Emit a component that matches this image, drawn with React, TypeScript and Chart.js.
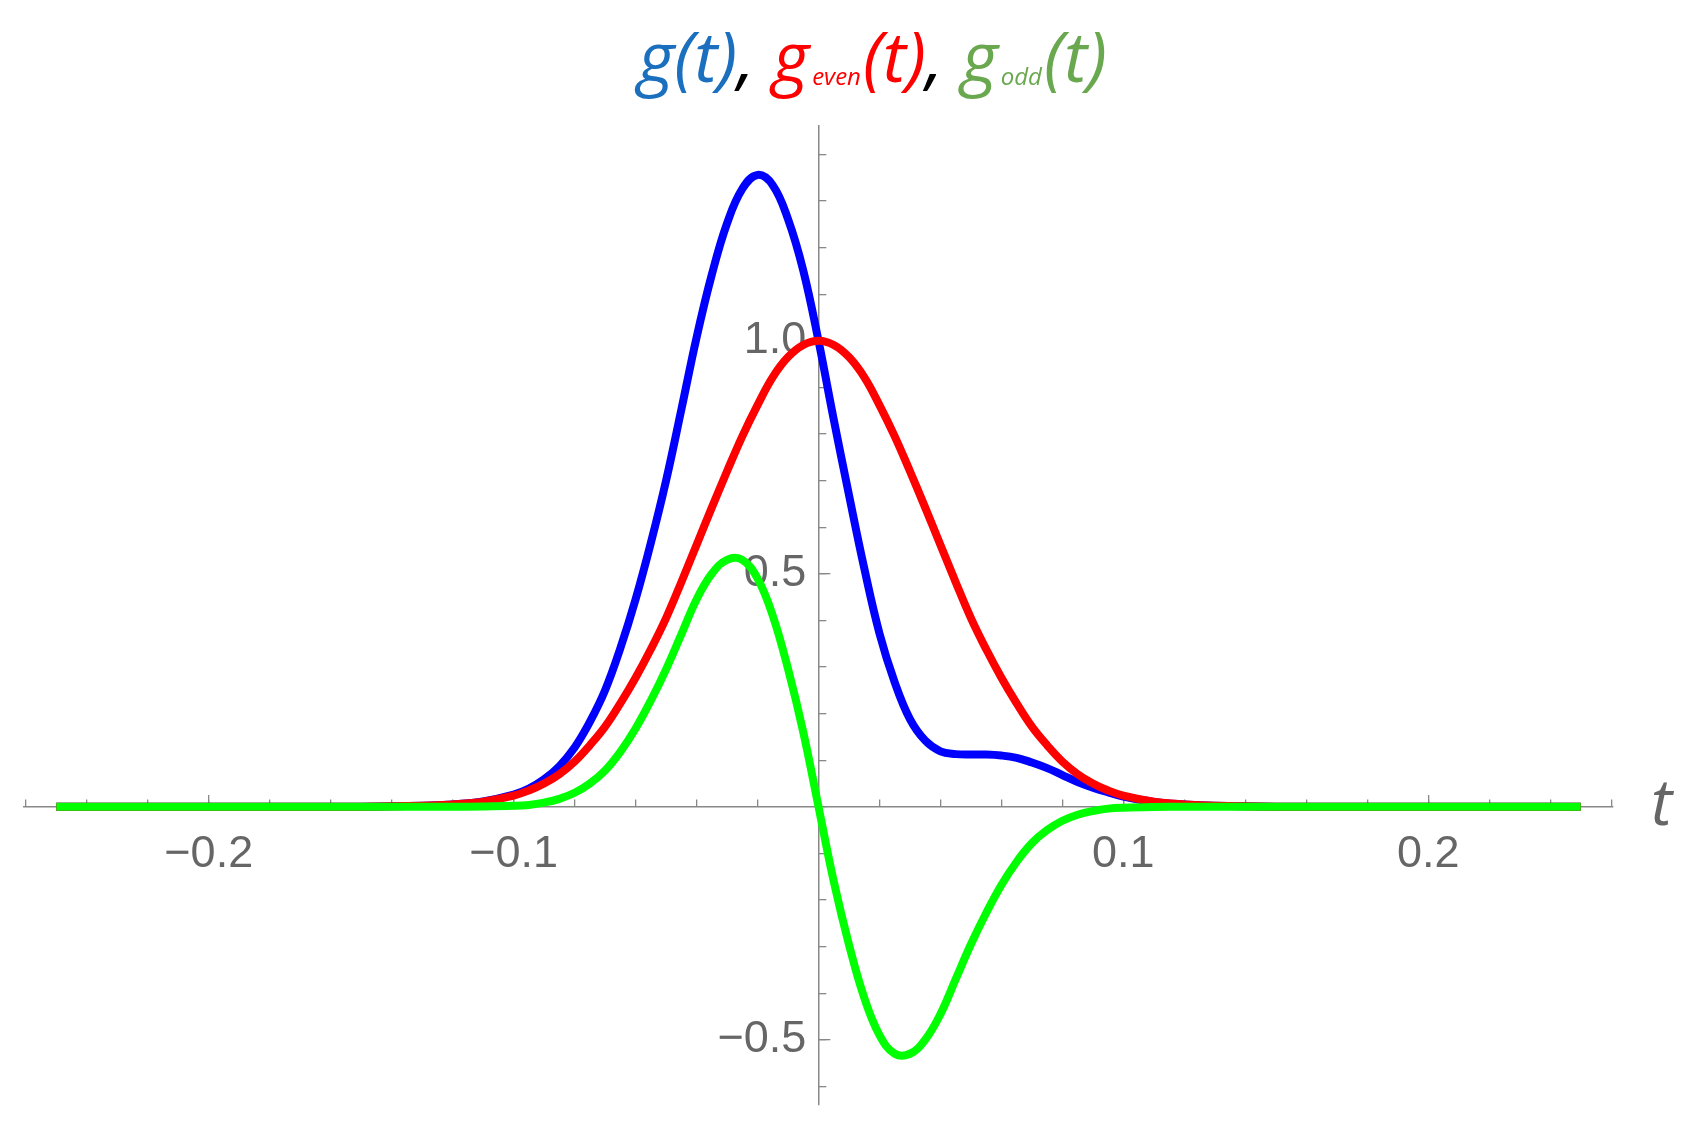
import React, { useEffect, useRef } from 'react';
import { Chart, registerables } from 'chart.js';

Chart.register(...registerables);

// ---- data ----
const T = [
  -0.25, -0.2, -0.15, -0.13, -0.12, -0.11,
  -0.1, -0.095, -0.09, -0.085, -0.08, -0.075, -0.07, -0.065, -0.06, -0.055,
  -0.05, -0.045, -0.04, -0.035, -0.03, -0.025, -0.02, -0.015, -0.01, -0.005,
  0,
  0.005, 0.01, 0.015, 0.02, 0.025, 0.03, 0.035, 0.04, 0.045, 0.05,
  0.055, 0.06, 0.065, 0.07, 0.075, 0.08, 0.085, 0.09, 0.095, 0.1,
  0.11, 0.12, 0.13, 0.15, 0.2, 0.25,
];

const G = [
  0, 0, 0.0003, 0.002, 0.005, 0.0115,
  0.026, 0.039, 0.059, 0.087, 0.127, 0.182, 0.25, 0.34, 0.445, 0.566,
  0.70, 0.852, 1.007, 1.142, 1.252, 1.326, 1.356, 1.334, 1.261, 1.151,
  1.0,
  0.831, 0.669, 0.512, 0.372, 0.267, 0.188, 0.142, 0.119, 0.113, 0.112,
  0.112, 0.11, 0.105, 0.095, 0.083, 0.068, 0.053, 0.041, 0.031, 0.022,
  0.0105, 0.005, 0.002, 0.0003, 0, 0,
];

const G_EVEN = [
  0, 0, 0.0003, 0.002, 0.005, 0.011,
  0.024, 0.035, 0.05, 0.07, 0.097, 0.132, 0.172, 0.222, 0.277, 0.338,
  0.405, 0.482, 0.562, 0.642, 0.72, 0.795, 0.862, 0.922, 0.965, 0.991,
  1.0,
  0.991, 0.965, 0.922, 0.862, 0.795, 0.72, 0.642, 0.562, 0.482, 0.405,
  0.338, 0.277, 0.222, 0.172, 0.132, 0.097, 0.07, 0.05, 0.035, 0.024,
  0.011, 0.005, 0.002, 0.0003, 0, 0,
];

const G_ODD = [
  0, 0, 0, 0, 0, 0.0005,
  0.002, 0.004, 0.009, 0.017, 0.03, 0.05, 0.078, 0.118, 0.168, 0.228,
  0.295, 0.37, 0.445, 0.5, 0.53, 0.53, 0.49, 0.41, 0.296, 0.16,
  0,
  -0.16, -0.296, -0.41, -0.49, -0.53, -0.53, -0.5, -0.445, -0.37, -0.295,
  -0.228, -0.168, -0.118, -0.078, -0.05, -0.03, -0.017, -0.009, -0.004, -0.002,
  -0.0005, 0, 0, 0, 0, 0,
];

const X_MAJOR_TICKS = [-0.2, -0.1, 0.1, 0.2];
const X_MAJOR_LABELS = ['\u22120.2', '\u22120.1', '0.1', '0.2'];
const X_MINOR_TICKS = [
  -0.26, -0.24, -0.22, -0.2, -0.18, -0.16, -0.14, -0.12, -0.1, -0.08, -0.06, -0.04, -0.02,
  0, 0.02, 0.04, 0.06, 0.08, 0.1, 0.12, 0.14, 0.16, 0.18, 0.2, 0.22, 0.24, 0.26,
];
const Y_MAJOR_TICKS = [-0.5, 0.5, 1.0];
const Y_MAJOR_LABELS = ['\u22120.5', '0.5', '1.0'];
const Y_MINOR_TICKS = [
  -0.6, -0.5, -0.4, -0.3, -0.2, -0.1, 0, 0.1, 0.2, 0.3, 0.4, 0.5, 0.6, 0.7,
  0.8, 0.9, 1.0, 1.1, 1.2, 1.3, 1.4,
];

const X_MIN = -0.2606;
const X_MAX = 0.2606;
const Y_MIN = -0.64;
const Y_MAX = 1.461;

const AXIS_COLOR = '#888888';
const LABEL_COLOR = '#666666';
const TICK_FONT = { family: '"Liberation Sans", Arial, sans-serif', size: 45, lineHeight: 1.2 };

const TITLE_FONT = '"Open Sans", "Noto Sans", sans-serif';
const TITLE_SIZE = 70;
const TITLE_SUB_SIZE = 24;
const TITLE_PARTS = [
  { text: 'g(t)', color: '#1a6fbf', sub: false },
  { text: ', ', color: '#000000', sub: false },
  { text: 'g', color: '#ff0000', sub: false },
  { text: 'even', color: '#ff0000', sub: true },
  { text: '(t)', color: '#ff0000', sub: false },
  { text: ', ', color: '#000000', sub: false },
  { text: 'g', color: '#6aa84f', sub: false },
  { text: 'odd', color: '#6aa84f', sub: true },
  { text: '(t)', color: '#6aa84f', sub: false },
];

const toPoints = (ys: number[]) => T.map((t, i) => ({ x: t, y: ys[i] }));

const textPlugin = {
  id: 'mmaText',
  afterDraw(chart: any) {
    const ctx = chart.ctx;
    const xs = chart.scales.x;
    const ys = chart.scales.y;
    ctx.save();
    // axis label "t"
    ctx.fillStyle = LABEL_COLOR;
    ctx.font = `italic 64px ${TITLE_FONT}`;
    ctx.textAlign = 'left';
    ctx.textBaseline = 'alphabetic';
    ctx.fillText('t', xs.right + 38, ys.getPixelForValue(0) + 18);

    // title
    let x = 638;
    const baseline = 82;
    for (const p of TITLE_PARTS) {
      ctx.font = `italic ${p.sub ? TITLE_SUB_SIZE : TITLE_SIZE}px ${TITLE_FONT}`;
      ctx.fillStyle = p.color;
      const y = p.sub ? baseline + 3 : baseline;
      ctx.fillText(p.text, x + (p.sub ? 3 : 0), y);
      x += ctx.measureText(p.text).width + (p.sub ? 5 : 0);
    }
    ctx.restore();
  },
};

export default function App() {
  const ref = useRef<HTMLCanvasElement | null>(null);

  useEffect(() => {
    if (!ref.current) return;
    const line = (label: string, data: number[], color: string, order: number) => ({
      label,
      data: toPoints(data),
      borderColor: color,
      backgroundColor: color,
      borderWidth: 8,
      pointRadius: 0,
      pointHoverRadius: 0,
      fill: false,
      tension: 0.4,
      borderJoinStyle: 'round' as const,
      order,
    });

    const chart = new Chart(ref.current, {
      type: 'line',
      data: {
        datasets: [
          line('g(t)', G, '#0000ff', 3),
          line('g_even(t)', G_EVEN, '#ff0000', 2),
          line('g_odd(t)', G_ODD, '#00ff00', 1),
        ],
      },
      options: {
        animation: false,
        responsive: false,
        devicePixelRatio: 1,
        layout: { padding: { left: 24, right: 81, top: 126, bottom: 22 } },
        plugins: {
          legend: { display: false },
          tooltip: { enabled: false },
          title: { display: false },
        },
        events: [],
        scales: {
          x: {
            type: 'linear',
            min: X_MIN,
            max: X_MAX,
            position: { y: 0 } as any,
            afterBuildTicks: (s: any) => {
              s.ticks = X_MAJOR_TICKS.map((v) => ({ value: v }));
            },
            ticks: {
              autoSkip: false,
              maxRotation: 0,
              minRotation: 0,
              color: LABEL_COLOR,
              font: TICK_FONT,
              padding: 33,
              callback: (_v: any, i: number) => X_MAJOR_LABELS[i] ?? '',
            },
            grid: { drawOnChartArea: false, drawTicks: true, tickLength: -12.5, color: AXIS_COLOR, lineWidth: 1.3 },
            border: { display: true, color: AXIS_COLOR, width: 1.5 },
          },
          xMinor: {
            type: 'linear',
            axis: 'x',
            min: X_MIN,
            max: X_MAX,
            position: { y: 0 } as any,
            afterBuildTicks: (s: any) => {
              s.ticks = X_MINOR_TICKS.map((v) => ({ value: v }));
            },
            ticks: { display: false },
            grid: { drawOnChartArea: false, drawTicks: true, tickLength: -7.5, color: AXIS_COLOR, lineWidth: 1.3 },
            border: { display: false },
          },
          y: {
            type: 'linear',
            min: Y_MIN,
            max: Y_MAX,
            position: { x: 0 } as any,
            afterBuildTicks: (s: any) => {
              s.ticks = Y_MAJOR_TICKS.map((v) => ({ value: v }));
            },
            ticks: { display: false },
            grid: { drawOnChartArea: false, drawTicks: true, tickLength: -12.3, color: AXIS_COLOR, lineWidth: 1.3 },
            border: { display: true, color: AXIS_COLOR, width: 1.5 },
          },
          yMinor: {
            type: 'linear',
            axis: 'y',
            min: Y_MIN,
            max: Y_MAX,
            position: { x: 0 } as any,
            afterBuildTicks: (s: any) => {
              s.ticks = Y_MINOR_TICKS.map((v) => ({ value: v }));
            },
            ticks: { display: false },
            grid: { drawOnChartArea: false, drawTicks: true, tickLength: -7.3, color: AXIS_COLOR, lineWidth: 1.3 },
            border: { display: false },
          },
          yLab: {
            type: 'linear',
            axis: 'y',
            min: Y_MIN,
            max: Y_MAX,
            position: { x: -0.004 } as any,
            afterBuildTicks: (s: any) => {
              s.ticks = Y_MAJOR_TICKS.map((v) => ({ value: v }));
            },
            ticks: {
              autoSkip: false,
              color: LABEL_COLOR,
              font: { ...TICK_FONT, lineHeight: 0.8 },
              padding: 0,
              callback: (_v: any, i: number) => Y_MAJOR_LABELS[i] ?? '',
            },
            grid: { display: false, drawTicks: false },
            border: { display: false },
          },
        } as any,
      },
      plugins: [textPlugin],
    });
    return () => chart.destroy();
  }, []);

  return (
    <div style={{ position: 'absolute', left: 0, top: 0, width: 1694, height: 1127, background: '#ffffff' }}>
      <canvas ref={ref} width={1694} height={1127} style={{ width: 1694, height: 1127, display: 'block' }} />
    </div>
  );
}
